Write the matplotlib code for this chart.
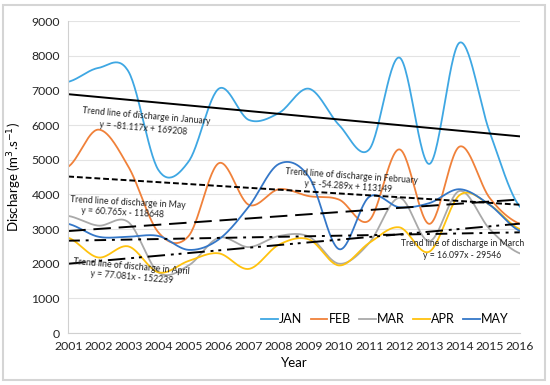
import numpy as np
import matplotlib.pyplot as plt
from matplotlib.patches import Rectangle

# --- DATA ---
years = list(range(2001, 2017))
jan = [7250, 7650, 7550, 4700, 4950, 7050, 6150, 6350, 7050, 6000, 5300, 7950, 4880, 8380, 5800, 3650]
feb = [4800, 5870, 4800, 2900, 2800, 4900, 3700, 4150, 3950, 3850, 3250, 5300, 3150, 5380, 3900, 3150]
mar = [3380, 3100, 3200, 1750, 1950, 2750, 2480, 2800, 2780, 2000, 2600, 3900, 2650, 4100, 3000, 2300]
apr = [2750, 2180, 2500, 1750, 2080, 2300, 1850, 2550, 2700, 1950, 2600, 3050, 2350, 3980, 3700, 3000]
may = [3150, 2780, 2780, 2800, 2400, 2700, 3650, 4880, 4500, 2420, 3930, 3630, 3750, 4150, 3700, 2950]

series_names = ['JAN', 'FEB', 'MAR', 'APR', 'MAY']
series_vals = [jan, feb, mar, apr, may]
series_colors = ['#3EA7E3', '#F0813A', '#A9A9A9', '#FFC20E', '#3477C8']

# trend line coefficients (slope, intercept) as printed on the chart
trend_slopes = [-81.117, -54.289, 16.097, 77.081, 60.765]
trend_inters = [169208, 113149, -29546, -152239, -118648]
trend_styles = ['-', (0, (3, 1.5)), (0, (6, 3, 1.5, 3)), (0, (9, 3, 1.5, 2.5, 1.5, 3)), (0, (9, 4))]
trend_titles = ['Trend line of discharge in January', 'Trend line of discharge in February',
                'Trend line of discharge in March', 'Trend line of discharge in April',
                'Trend line of discharge in May']
trend_eqs = ['y = -81.117x + 169208', 'y = -54.289x + 113149', 'y = 16.097x - 29546',
             'y = 77.081x - 152239', 'y = 60.765x - 118648']
# label positions (year, value) and rotation
label_pos = [(2003.6, 6270, 2003.5, 5920, -5), (2010.4, 4530, 2010.3, 4240, -4),
             (2014.1, 2570, 2014.1, 2250, 0), (2003.1, 1910, 2003.1, 1620, -5),
             (2003.0, 3760, 2002.8, 3470, -3)]


def smooth(x, y, n=30):
    # Catmull-Rom style smoothing like Excel's "smoothed line"
    x = np.asarray(x, float)
    y = np.asarray(y, float)
    px = np.concatenate([[2 * x[0] - x[1]], x, [2 * x[-1] - x[-2]]])
    py = np.concatenate([[y[0]], y, [y[-1]]])
    xs, ys = [], []
    t = np.linspace(0, 1, n, endpoint=False)
    for i in range(1, len(px) - 2):
        p0, p1, p2, p3 = py[i - 1], py[i], py[i + 1], py[i + 2]
        c1 = p1 + (p2 - p0) / 6
        c2 = p2 - (p3 - p1) / 6
        yy = (1 - t) ** 3 * p1 + 3 * (1 - t) ** 2 * t * c1 + 3 * (1 - t) * t ** 2 * c2 + t ** 3 * p2
        xx = px[i] + t * (px[i + 1] - px[i])
        xs.extend(xx)
        ys.extend(yy)
    xs.append(x[-1])
    ys.append(y[-1])
    return np.array(xs), np.array(ys)


plt.rcParams['font.family'] = ['Lato', 'DejaVu Sans']

fig = plt.figure(figsize=(5.5, 3.85), dpi=100)
ax = fig.add_axes([0.124, 0.135, 0.821, 0.81])

for name, vals, col in zip(series_names, series_vals, series_colors):
    sx, sy = smooth(years, vals)
    ax.plot(sx, sy, color=col, lw=1.3, label=name)

yr = np.array([years[0], years[-1]])
for s, b, ls in zip(trend_slopes, trend_inters, trend_styles):
    ax.plot(yr, s * yr + b, color='black', lw=1.4, linestyle=ls)

for title, eq, (tx, ty, ex, ey, rot) in zip(trend_titles, trend_eqs, label_pos):
    ax.text(tx, ty, title, fontsize=6.2, ha='center', va='center', rotation=rot, color='#222222')
    ax.text(ex, ey, eq, fontsize=6.2, ha='center', va='center', rotation=rot, color='#222222')

ax.set_xlim(2001, 2016)
ax.set_ylim(0, 9000)
ax.set_xticks(years)
ax.set_yticks(range(0, 9001, 1000))
ax.tick_params(length=0, labelsize=8.8, pad=6, colors='#262626')
ax.grid(axis='y', color='#E3E3E3', lw=0.8)
ax.set_axisbelow(True)
for side in ['top', 'right']:
    ax.spines[side].set_visible(False)
for side in ['left', 'bottom']:
    ax.spines[side].set_color('#D0D0D0')

ax.set_xlabel('Year', fontsize=9.5, labelpad=3)
ax.set_ylabel('Discharge (m$^3$.s$^{-1}$)', fontsize=9.5, labelpad=5)

ax.legend(loc='lower right', bbox_to_anchor=(1.0, -0.01), ncol=5, frameon=False, fontsize=9,
          handlelength=1.3, handletextpad=0.1, columnspacing=0.7)

fig.patches.append(Rectangle((0.006, 0.012), 0.985, 0.975, transform=fig.transFigure,
                             fill=False, edgecolor='#D5D5D5', lw=1.5))

fig.savefig('out.png', dpi=100)
